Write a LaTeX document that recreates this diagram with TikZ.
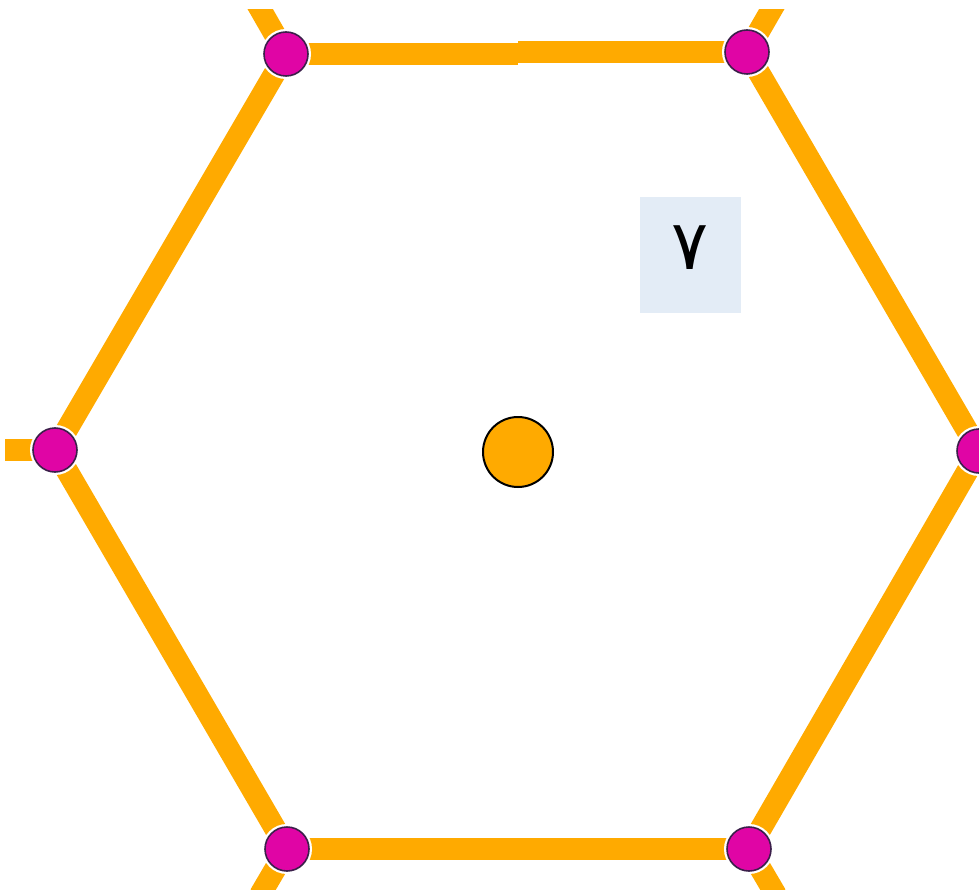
\documentclass[tikz,border=0pt]{standalone}
\usepackage{fontspec}
\newfontfamily\arabicfont[Script=Arabic]{DejaVu Sans}
\TeXXeTstate=1
\definecolor{hexorange}{HTML}{FFAA00}
\definecolor{vpink}{HTML}{E005A5}
\definecolor{vrim}{HTML}{3B1F4A}
\definecolor{boxblue}{HTML}{E3ECF6}
\begin{document}
\begin{tikzpicture}[x=1pt,y=-1pt,
  edge/.style={hexorange,line width=22pt},
  vert/.style={circle,fill=vpink,draw=vrim,line width=1.6pt,minimum size=44pt,inner sep=0pt,
    preaction={draw=white,line width=6pt}},
  hub/.style={circle,fill=hexorange,draw=black,line width=2pt,minimum size=70pt,inner sep=0pt},
  labelbox/.style={rectangle,fill=boxblue,minimum width=101pt,minimum height=116pt,inner sep=0pt}]
\useasboundingbox (0,0) rectangle (979,890);
\clip (5,10) rectangle (979,890);
% vertex positions
\coordinate (pTL) at (286,54);
\coordinate (pTR) at (747,52);
\coordinate (pR) at (979,451);
\coordinate (pBR) at (749,849);
\coordinate (pBL) at (287,849);
\coordinate (pL) at (55,450);
\coordinate (mT1) at (518,54);
\coordinate (mT2) at (518,52);
% stub ends
\coordinate (sTL) at (255,0);
\coordinate (sTR) at (777,0);
\coordinate (sL) at (0,450);
\coordinate (sBL) at (260,895);
\coordinate (sBR) at (776,895);
\coordinate (sR) at (1010,451);
% edges
\draw[edge] (pTL) -- (mT1);
\draw[edge] (mT2) -- (pTR);
\draw[edge] (pTR) -- (pR);
\draw[edge] (pR) -- (pBR);
\draw[edge] (pBR) -- (pBL);
\draw[edge] (pBL) -- (pL);
\draw[edge] (pL) -- (pTL);
\draw[edge] (pTL) -- (sTL);
\draw[edge] (pTR) -- (sTR);
\draw[edge] (pL) -- (sL);
\draw[edge] (pBL) -- (sBL);
\draw[edge] (pBR) -- (sBR);
\draw[edge] (pR) -- (sR);
% vertices
\node[vert] (vTL) at (pTL) {};
\node[vert] (vTR) at (pTR) {};
\node[vert] (vR) at (pR) {};
\node[vert] (vBR) at (pBR) {};
\node[vert] (vBL) at (pBL) {};
\node[vert] (vL) at (pL) {};
% centre
\node[hub] (hub) at (518,452) {};
% label
\node[labelbox] (box) at (690.5,255) {};
\node[inner sep=0pt] (num) at (690,248) {\arabicfont\fontsize{69}{69}\selectfont\beginR ٧\endR};
\end{tikzpicture}
\end{document}
